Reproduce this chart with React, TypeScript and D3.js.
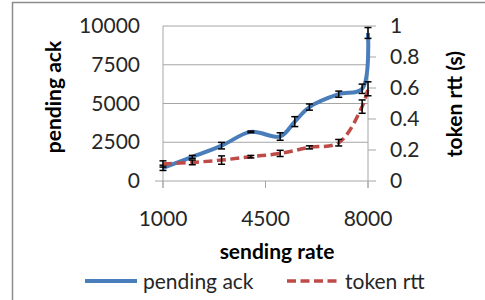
import React from "react";
import * as d3 from "d3";

const rates = [1000, 2000, 3000, 4000, 5000, 5500, 6000, 7000, 7800, 8000];
const pendingAck = [850, 1550, 2280, 3170, 2870, 3830, 4770, 5600, 5950, 9550];
const pendingErr = [170, 100, 210, 50, 240, 320, 200, 200, 300, 350];
const rates2 = [1000, 2000, 3000, 4000, 5000, 6000, 7000, 7800, 8000];
const tokenRtt = [0.11, 0.12, 0.135, 0.157, 0.178, 0.217, 0.247, 0.48, 0.595];
const tokenErr = [0.02, 0.015, 0.027, 0.008, 0.02, 0.01, 0.021, 0.043, 0.045];
const xTicks = [1000, 4500, 8000];
const leftTicks = [0, 2500, 5000, 7500, 10000];
const rightTicks = [0, 0.2, 0.4, 0.6, 0.8, 1];

const FONT = "Lato, 'Open Sans', sans-serif";

export default function App() {
  const x = d3.scaleLinear().domain([1000, 8000]).range([163, 368]);
  const yL = d3.scaleLinear().domain([0, 10000]).range([181, 26]);
  const yR = d3.scaleLinear().domain([0, 1]).range([181, 26]);
  const grid = "#A6A6A6";
  const blue = "#4A7EBB";
  const red = "#BE4B48";

  const blueLine = d3
    .line<number>()
    .x((_, i) => x(rates[i]))
    .y((d) => yL(d))
    .curve(d3.curveCatmullRom.alpha(0.5))(pendingAck) || "";
  const redLine = d3
    .line<number>()
    .x((_, i) => x(rates2[i]))
    .y((d) => yR(d))
    .curve(d3.curveCatmullRom.alpha(0.5))(tokenRtt) || "";

  const cap = 3.5;

  return (
    <svg
      width={485}
      height={300}
      style={{ position: "absolute", left: 0, top: 0, background: "#fff" }}
      fontFamily={FONT}
    >
      <rect x={12.5} y={2.5} width={482} height={310} fill="#fff" stroke="#8C8C8C" strokeWidth={1.5} />
      {/* horizontal gridlines */}
      {leftTicks.map((t) => (
        <line key={"g" + t} x1={t === 0 ? 155 : 163} x2={368} y1={yL(t)} y2={yL(t)} stroke={grid} strokeWidth={1} />
      ))}
      {/* left axis line */}
      <line x1={163} x2={163} y1={26} y2={188} stroke={grid} strokeWidth={1} />
      {/* right axis line */}
      <line x1={368} x2={368} y1={26} y2={188} stroke={grid} strokeWidth={1} />
      {rightTicks.map((t) => (
        <line key={"rt" + t} x1={368} x2={376} y1={yR(t)} y2={yR(t)} stroke={grid} strokeWidth={1} />
      ))}
      {xTicks.map((t) => (
        <line key={"xt" + t} x1={x(t)} x2={x(t)} y1={181} y2={188} stroke={grid} strokeWidth={1} />
      ))}
      {/* tick labels */}
      {leftTicks.map((t) => (
        <text key={"lt" + t} x={140} y={yL(t) + 7} textAnchor="end" fontSize={21} fill="#262626">
          {t}
        </text>
      ))}
      {rightTicks.map((t) => (
        <text key={"rl" + t} x={390} y={yR(t) + 7} textAnchor="start" fontSize={21} fill="#262626">
          {t}
        </text>
      ))}
      {xTicks.map((t) => (
        <text key={"xl" + t} x={x(t)} y={226} textAnchor="middle" fontSize={21} fill="#262626">
          {t}
        </text>
      ))}
      {/* axis titles */}
      <text x={277} y={259} textAnchor="middle" fontSize={21} fontWeight="bold" fill="#000">
        sending rate
      </text>
      <text
        transform={`translate(61,97) rotate(-90)`}
        textAnchor="middle"
        fontSize={21}
        fontWeight="bold"
        fill="#000"
      >
        pending ack
      </text>
      <text
        transform={`translate(462,104) rotate(-90)`}
        textAnchor="middle"
        fontSize={21}
        fontWeight="bold"
        fill="#000"
      >
        token rtt (s)
      </text>
      {/* series */}
      <path d={blueLine} fill="none" stroke={blue} strokeWidth={4} strokeLinejoin="round" />
      {pendingAck.map((v, i) => {
        const cx = x(rates[i]);
        const y1 = yL(v - pendingErr[i]);
        const y2 = yL(v + pendingErr[i]);
        return (
          <g key={"be" + i} stroke="#000" strokeWidth={1.5}>
            <line x1={cx} x2={cx} y1={y1} y2={y2} />
            <line x1={cx - cap} x2={cx + cap} y1={y1} y2={y1} />
            <line x1={cx - cap} x2={cx + cap} y1={y2} y2={y2} />
          </g>
        );
      })}
      <path d={redLine} fill="none" stroke={red} strokeWidth={3.5} strokeDasharray="9,4.5" />
      {tokenRtt.map((v, i) => {
        const cx = x(rates2[i]);
        const y1 = yR(v - tokenErr[i]);
        const y2 = yR(v + tokenErr[i]);
        return (
          <g key={"re" + i} stroke="#000" strokeWidth={1.5}>
            <line x1={cx} x2={cx} y1={y1} y2={y2} />
            <line x1={cx - cap} x2={cx + cap} y1={y1} y2={y1} />
            <line x1={cx - cap} x2={cx + cap} y1={y2} y2={y2} />
          </g>
        );
      })}
      {/* legend */}
      <line x1={85} x2={137} y1={281} y2={281} stroke={blue} strokeWidth={4} />
      <text x={143} y={289} fontSize={21} fill="#262626">pending ack</text>
      <line x1={287} x2={340} y1={281} y2={281} stroke={red} strokeWidth={3.5} strokeDasharray="9,4.5" />
      <text x={345} y={289} fontSize={21} fill="#262626">token rtt</text>
    </svg>
  );
}
